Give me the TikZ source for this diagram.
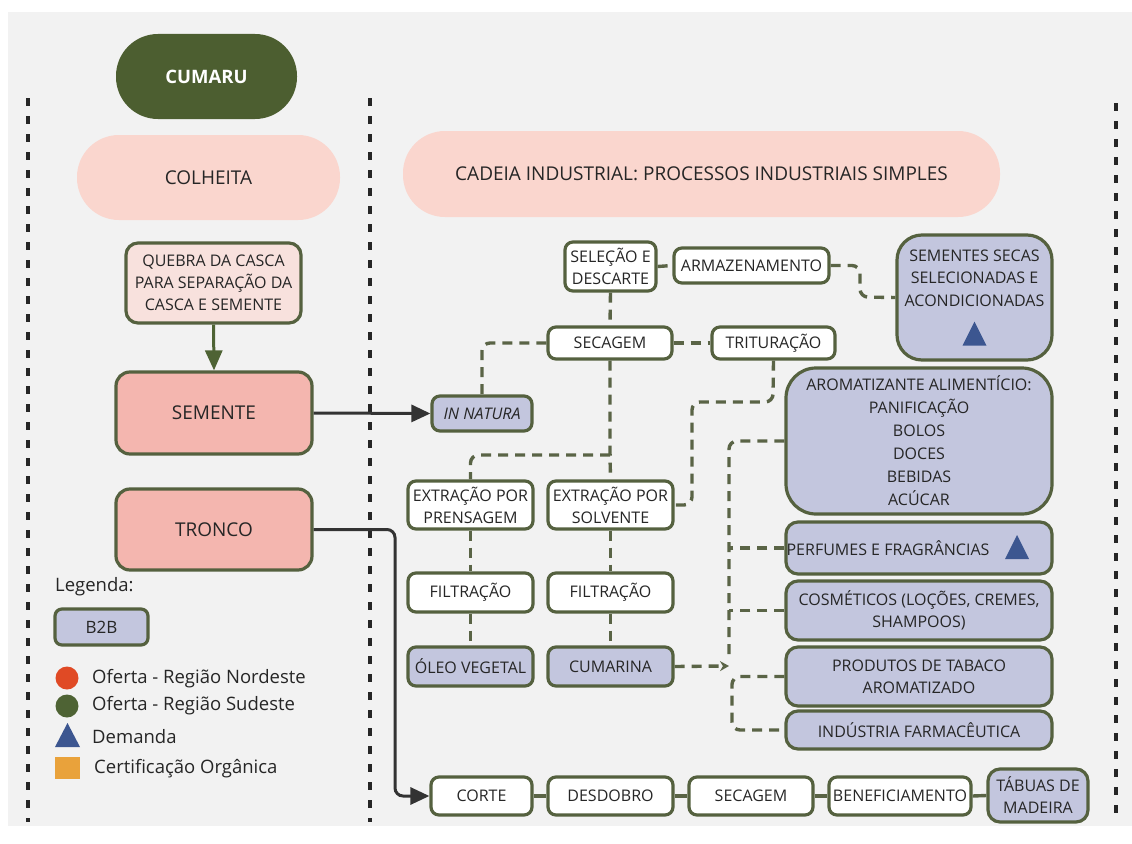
\documentclass[tikz,border=0pt]{standalone}
\usepackage{fontspec}
\setmainfont{Open Sans}
\usetikzlibrary{arrows.meta,calc}

\definecolor{panel}{HTML}{F2F2F2}
\definecolor{olive}{HTML}{55613F}
\definecolor{linkcol}{HTML}{5A6446}
\definecolor{darkgreen}{HTML}{4C5E30}
\definecolor{pillpink}{HTML}{FAD6CE}
\definecolor{lightpink}{HTML}{F8E1DD}
\definecolor{salmon}{HTML}{F4B6AF}
\definecolor{lavender}{HTML}{C3C6DE}
\definecolor{txt}{HTML}{262626}
\definecolor{demandblue}{HTML}{3C5690}
\definecolor{nordeste}{HTML}{E04A25}
\definecolor{sudeste}{HTML}{4E6334}
\definecolor{organic}{HTML}{E9A23B}

\tikzset{
  box/.style={draw=olive, line width=3.2pt, text=txt, inner sep=0pt,
    align=center, font=\fontsize{16}{22}\selectfont, rounded corners=8pt},
  plain/.style={box, fill=white},
  b2b/.style={box, fill=lavender},
  pill/.style={fill=pillpink, text=txt, inner sep=0pt, rounded corners=42pt,
    font=\fontsize{19}{22}\selectfont},
  part/.style={box, fill=salmon, rounded corners=14pt, font=\fontsize{19}{22}\selectfont},
  link/.style={draw=linkcol, line width=3.4pt, dash pattern=on 10pt off 7pt, rounded corners=8pt},
  solidlink/.style={draw=linkcol, line width=3.4pt},
  flow/.style={draw=black!80, line width=3pt, rounded corners=8pt,
    -{Triangle[length=19pt,width=17pt]}},
  guide/.style={draw=black!85, line width=3.4pt, dash pattern=on 8pt off 10pt},
  demand/.style={fill=demandblue},
  legtext/.style={text=txt, anchor=west, inner sep=0pt, font=\fontsize{18.5}{22}\selectfont},
}

\begin{document}
\begin{tikzpicture}[x=1pt, y=-1pt]
  % canvas
  \fill[white] (0,0) rectangle (1132,843);
  \useasboundingbox (0,0) rectangle (1132,843);
  \fill[panel] (8,12) rectangle (1132,826);

  % column separators
  \draw[guide] (28,98) -- (28,822);
  \draw[guide] (370,98) -- (370,822);
  \draw[guide] (1116,103) -- (1116,822);

  % headers
  \node[fill=darkgreen, text=white, rounded corners=42pt, minimum width=181pt,
        minimum height=85pt, inner sep=0pt, font=\fontsize{18.5}{20}\selectfont\bfseries]
        (cumaru) at (206.5,76.5) {CUMARU};
  \node[pill, minimum width=263pt, minimum height=85pt] (colheita) at (208.5,177.5) {COLHEITA};
  \node[pill, minimum width=597pt, minimum height=86pt] (cadeia) at (701.5,174)
        {CADEIA INDUSTRIAL: PROCESSOS INDUSTRIAIS SIMPLES};

  % harvest column
  \node[box, fill=lightpink, rounded corners=12pt, minimum width=175pt, minimum height=80pt]
        (quebra) at (213.5,283) {QUEBRA DA CASCA\\PARA SEPARAÇÃO DA\\CASCA E SEMENTE};
  \node[part, minimum width=196pt, minimum height=82pt] (semente) at (214,413) {SEMENTE};
  \node[part, minimum width=196pt, minimum height=81pt] (tronco) at (214,529.5) {TRONCO};

  % legend
  \node[legtext] (legenda) at (55,587) {Legenda:};
  \node[b2b, rounded corners=7pt, minimum width=93pt, minimum height=36pt,
        font=\fontsize{17}{22}\selectfont] (b2b) at (101.5,627) {B2B};
  \fill[nordeste] (67,678) circle (11.5pt);
  \node[legtext] (lnordeste) at (92,679) {Oferta - Região Nordeste};
  \fill[sudeste] (67,706) circle (11.5pt);
  \node[legtext] (lsudeste) at (92,706) {Oferta - Região Sudeste};
  \fill[demand] (55,747) -- (80,747) -- (67.5,723) -- cycle;
  \node[legtext] (ldemanda) at (92,737) {Demanda};
  \fill[organic] (55,757) rectangle (80,779);
  \node[legtext] (lorganica) at (94,769) {Certificação Orgânica};

  % seed processing chain
  \node[plain, minimum width=91pt, minimum height=49pt] (selecao) at (610.5,266.5) {SELEÇÃO E\\DESCARTE};
  \node[plain, minimum width=155pt, minimum height=35pt] (armaz) at (751.5,265.5) {ARMAZENAMENTO};
  \node[plain, minimum width=124pt, minimum height=32pt] (secagem) at (610,343) {SECAGEM};
  \node[plain, minimum width=123pt, minimum height=32pt] (tritura) at (773.5,343) {TRITURAÇÃO};
  \node[b2b, minimum width=100pt, minimum height=35pt] (innatura) at (482,413.5) {\itshape IN NATURA};
  \node[plain, minimum width=125pt, minimum height=48pt] (prensa) at (470.5,505) {EXTRAÇÃO POR\\PRENSAGEM};
  \node[plain, minimum width=125pt, minimum height=48pt] (solvente) at (610.5,505) {EXTRAÇÃO POR\\SOLVENTE};
  \node[plain, minimum width=125pt, minimum height=39pt] (filtA) at (470.5,592.5) {FILTRAÇÃO};
  \node[plain, minimum width=125pt, minimum height=39pt] (filtB) at (610.5,592.5) {FILTRAÇÃO};
  \node[b2b, minimum width=125pt, minimum height=39pt] (oleo) at (470.5,666.5) {ÓLEO VEGETAL};
  \node[b2b, minimum width=125pt, minimum height=39pt] (cumarina) at (610.5,666.5) {CUMARINA};

  % markets
  \node[b2b, rounded corners=25pt, minimum width=155pt, minimum height=125pt] (sementes) at (974.5,297.5) {};
  \node[text=txt, align=center, inner sep=0pt, font=\fontsize{16}{22.5}\selectfont]
        (sementes-t) at (974.5,278) {SEMENTES SECAS\\SELECIONADAS E\\ACONDICIONADAS};
  \fill[demand] ($(sementes.south)+(-12,-16)$) -- ($(sementes.south)+(12,-16)$)
        -- ($(sementes.south)+(0,-40)$) -- cycle;
  \node[b2b, rounded corners=30pt, minimum width=266pt, minimum height=146pt,
        font=\fontsize{16}{23}\selectfont] (arom) at (919,441)
        {AROMATIZANTE ALIMENTÍCIO:\\PANIFICAÇÃO\\BOLOS\\DOCES\\BEBIDAS\\ACÚCAR};
  \node[b2b, rounded corners=12pt, minimum width=266pt, minimum height=52pt] (perf) at (919,548) {};
  \node[text=txt, anchor=west, inner sep=0pt, font=\fontsize{16}{22}\selectfont]
        (perf-t) at ($(perf.west)+(2,0)$) {PERFUMES E FRAGRÂNCIAS};
  \fill[demand] (1005,559) -- (1029,559) -- (1017,535) -- cycle;
  \node[b2b, rounded corners=12pt, minimum width=266pt, minimum height=59pt] (cosm) at (919,610.5)
        {COSMÉTICOS (LOÇÕES, CREMES,\\SHAMPOOS)};
  \node[b2b, rounded corners=12pt, minimum width=266pt, minimum height=59pt] (prod) at (919,676.5)
        {PRODUTOS DE TABACO\\AROMATIZADO};
  \node[b2b, rounded corners=12pt, minimum width=266pt, minimum height=38pt] (farm) at (919,730)
        {INDÚSTRIA FARMACÊUTICA};

  % timber chain
  \node[plain, minimum width=101pt, minimum height=38pt] (corte) at (481.5,796) {CORTE};
  \node[plain, minimum width=125pt, minimum height=38pt] (desdobro) at (610.5,796) {DESDOBRO};
  \node[plain, minimum width=124pt, minimum height=38pt] (secagemB) at (751,796) {SECAGEM};
  \node[plain, minimum width=142pt, minimum height=38pt] (benef) at (900,796) {BENEFICIAMENTO};
  \node[b2b, rounded corners=12pt, minimum width=100pt, minimum height=53pt] (tabuas) at (1038,795.5)
        {TÁBUAS DE\\MADEIRA};

  % junction points of the dashed links
  \coordinate (split) at (610,455);
  \coordinate (bus) at (729,666);

  % arrows
  \draw[draw=sudeste, line width=3pt, -{Triangle[length=20pt,width=17pt]}]
        (quebra.south) -- (semente.north);
  \draw[flow] (semente.east) -- (innatura.west);
  \draw[flow] (tronco.east) -- (395,529.5) -- (395,796) -- (corte.west);

  % seed chain links
  \draw[link] (selecao.east) -- (armaz.west);
  \draw[link] (armaz.east) -- (860,265.5) -- (860,297) -- (sementes.west);
  \draw[link] (selecao.south) -- (secagem.north);
  \draw[link] (secagem.east) -- (tritura.west);
  \draw[link] (secagem.west) -| (innatura.north);
  \draw[link] (secagem.south) -- (split) -- (solvente.north);
  \draw[link] (split) -| (prensa.north);
  \draw[link] (tritura.south) -- (773,402) -- (692,402) -- (692,505) -- (solvente.east);
  \draw[link] (prensa.south) -- (filtA.north);
  \draw[link] (filtA.south) -- (oleo.north);
  \draw[link] (solvente.south) -- (filtB.north);
  \draw[link] (filtB.south) -- (cumarina.north);

  % coumarin distribution
  \draw[link, -{Stealth[length=9pt,width=10pt]}] (cumarina.east) -- (bus);
  \draw[link] (arom.west) -- (729,441) -- (729,658);
  \draw[link] (perf.west) -- (729,548);
  \draw[link] (cosm.west) -- (729,610.5);
  \draw[link] (prod.west) -- (732,676.5) -- (732,730) -- (farm.west);

  % timber chain links
  \draw[solidlink] (corte.east) -- (desdobro.west);
  \draw[solidlink] (desdobro.east) -- (secagemB.west);
  \draw[solidlink] (secagemB.east) -- (benef.west);
  \draw[solidlink] (benef.east) -- (tabuas.west);
\end{tikzpicture}
\end{document}
